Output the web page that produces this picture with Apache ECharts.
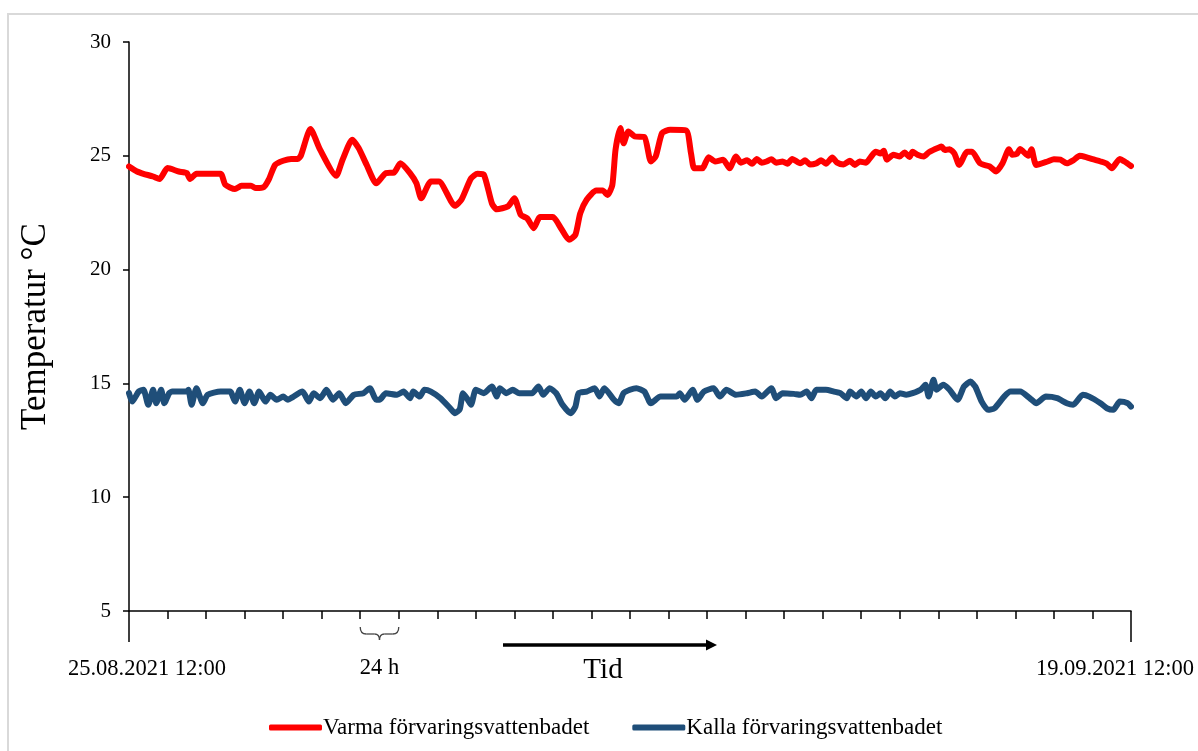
<!DOCTYPE html>
<html>
<head>
<meta charset="utf-8">
<script src="https://cdn.jsdelivr.net/npm/echarts@6/dist/echarts.min.js"></script>
<style>
  html, body { margin: 0; padding: 0; background: #ffffff; }
  #chart { width: 1198px; height: 751px; }
</style>
</head>
<body>
<div id="chart"></div>
<script>
// Time is counted in hours from 25.08.2021 12:00; one axis tick per 24 h.
const xEndLabels = ['25.08.2021 12:00', '19.09.2021 12:00'];
const hoursTotal = 624;
const tickHours = 24;
const yTicks = [5, 10, 15, 20, 25, 30];
const seriesNames = ['Varma förvaringsvattenbadet', 'Kalla förvaringsvattenbadet'];

// Warm storage water bath
const warmHours = [0, 5, 9, 15, 19, 24, 31, 36, 38, 42, 57, 60, 66, 70, 76, 79, 84, 87, 91, 96,
  101, 105, 107, 113, 119, 129, 133, 139, 143, 148, 154, 160, 165, 169, 175, 179, 182, 188, 193, 203,
  207, 213, 217, 221, 226, 229, 236, 240, 244, 248, 252, 256, 264, 269, 274, 278, 281, 285, 291, 295,
  298, 301, 303, 306, 308, 311, 315, 321, 325, 328, 332, 337, 347, 350, 352, 357, 361, 365, 370, 374,
  378, 381, 385, 388, 391, 394, 397, 400, 403, 407, 410, 413, 418, 421, 424, 428, 431, 434, 438, 441,
  445, 449, 452, 455, 459, 462, 465, 468, 470, 472, 476, 480, 483, 486, 488, 491, 495, 498, 501, 504,
  506, 508, 511, 514, 517, 522, 525, 530, 536, 540, 544, 548, 550, 553, 555, 557, 560, 562, 565, 572,
  576, 580, 584, 588, 592, 596, 600, 605, 609, 612, 617, 620, 624];
const warmTemps = [24.53, 24.31, 24.21, 24.09, 23.98, 24.46, 24.31, 24.24, 23.98, 24.21, 24.21, 23.73, 23.54, 23.68, 23.68, 23.58, 23.63, 23.95, 24.60, 24.78,
  24.86, 24.86, 25.00, 26.18, 25.27, 24.12, 24.83, 25.71, 25.34, 24.60, 23.79, 24.24, 24.26, 24.67, 24.24, 23.79, 23.13, 23.87, 23.87, 22.80,
  23.07, 24.01, 24.21, 24.17, 22.91, 22.65, 22.78, 23.13, 22.40, 22.25, 21.82, 22.31, 22.31, 21.82, 21.31, 21.53, 22.47, 23.07, 23.47, 23.47,
  23.28, 23.72, 25.27, 26.22, 25.55, 26.07, 25.85, 25.82, 24.75, 24.97, 26.00, 26.14, 26.11, 25.11, 24.45, 24.45, 24.94, 24.75, 24.83, 24.45,
  24.97, 24.70, 24.80, 24.65, 24.86, 24.70, 24.75, 24.85, 24.70, 24.75, 24.65, 24.86, 24.67, 24.80, 24.62, 24.67, 24.80, 24.65, 24.92, 24.70,
  24.62, 24.78, 24.60, 24.75, 24.70, 24.95, 25.18, 25.10, 25.22, 24.83, 25.05, 24.97, 25.15, 24.95, 25.18, 25.05, 24.97, 25.15, 25.26, 25.35,
  25.41, 25.25, 25.29, 25.10, 24.60, 25.18, 25.18, 24.67, 24.53, 24.31, 24.67, 25.29, 25.05, 25.09, 25.30, 25.18, 25.00, 25.29, 24.60, 24.75,
  24.85, 24.83, 24.67, 24.80, 25.00, 24.94, 24.85, 24.75, 24.65, 24.45, 24.86, 24.75, 24.55];

// Cold storage water bath
const coldHours = [0, 2, 6, 9, 12, 15, 17, 20, 22, 25, 27, 36, 37, 39, 42, 46, 49, 57, 63, 66,
  69, 72, 75, 78, 81, 85, 88, 92, 96, 99, 102, 108, 112, 115, 119, 123, 127, 131, 135, 140,
  146, 150, 154, 156, 160, 167, 171, 175, 177, 181, 184, 188, 194, 200, 203, 206, 208, 211, 213, 216,
  221, 226, 229, 231, 235, 239, 243, 251, 255, 258, 262, 266, 270, 275, 278, 280, 285, 290, 293, 296,
  302, 305, 308, 312, 316, 321, 325, 331, 341, 343, 346, 351, 354, 358, 364, 368, 372, 378, 385, 390,
  394, 400, 403, 407, 414, 418, 422, 425, 428, 434, 439, 443, 447, 449, 453, 456, 459, 462, 465, 468,
  471, 474, 477, 480, 484, 488, 493, 496, 498, 501, 503, 507, 511, 516, 520, 524, 527, 531, 535, 539,
  545, 549, 555, 561, 565, 571, 578, 584, 588, 594, 598, 605, 609, 613, 617, 622, 624];
const coldTemps = [14.57, 14.20, 14.64, 14.72, 14.06, 14.72, 14.13, 14.72, 14.13, 14.57, 14.64, 14.64, 14.72, 14.06, 14.79, 14.13, 14.50, 14.64, 14.64, 14.20,
  14.72, 14.13, 14.64, 14.13, 14.64, 14.20, 14.50, 14.28, 14.42, 14.28, 14.40, 14.64, 14.20, 14.57, 14.35, 14.72, 14.28, 14.57, 14.13, 14.50,
  14.57, 14.79, 14.28, 14.28, 14.57, 14.50, 14.64, 14.35, 14.64, 14.42, 14.72, 14.64, 14.35, 13.91, 13.69, 13.87, 14.57, 14.28, 14.06, 14.72,
  14.57, 14.86, 14.42, 14.79, 14.57, 14.72, 14.57, 14.57, 14.86, 14.50, 14.79, 14.57, 14.06, 13.69, 13.98, 14.57, 14.64, 14.79, 14.42, 14.79,
  14.28, 14.13, 14.57, 14.72, 14.79, 14.64, 14.13, 14.42, 14.42, 14.57, 14.28, 14.72, 14.28, 14.64, 14.79, 14.42, 14.72, 14.50, 14.57, 14.64,
  14.42, 14.79, 14.35, 14.57, 14.54, 14.50, 14.64, 14.35, 14.72, 14.72, 14.64, 14.57, 14.35, 14.64, 14.42, 14.64, 14.35, 14.64, 14.42, 14.57,
  14.35, 14.64, 14.42, 14.57, 14.50, 14.57, 14.72, 14.94, 14.42, 15.16, 14.72, 14.94, 14.72, 14.28, 14.86, 15.08, 14.86, 14.20, 13.84, 13.91,
  14.42, 14.64, 14.64, 14.35, 14.13, 14.42, 14.35, 14.13, 14.06, 14.50, 14.42, 14.13, 13.91, 13.84, 14.20, 14.13, 13.98];

const zip = (xs, ys) => xs.map((x, i) => [x, ys[i]]);

const FONT = '"Liberation Serif", "Times New Roman", serif';
const warmColor = '#ff0000';
const coldColor = '#1f4e79';

const chart = echarts.init(document.getElementById('chart'), null, { renderer: 'canvas' });

chart.setOption({
  animation: false,
  backgroundColor: '#ffffff',
  textStyle: { fontFamily: FONT },
  grid: { left: 129, right: 67, top: 42, bottom: 140, containLabel: false },
  legend: {
    left: 264,
    top: 711,
    itemWidth: 53,
    itemHeight: 6,
    itemGap: 43,
    icon: 'roundRect',
    textStyle: { fontFamily: FONT, fontSize: 23, color: '#000000', padding: [0, 0, 0, -4] },
    data: seriesNames
  },
  xAxis: [
    {
      type: 'value',
      min: 0,
      max: hoursTotal,
      interval: tickHours,
      position: 'bottom',
      axisLine: { show: true, lineStyle: { color: '#000000', width: 1.5 } },
      axisTick: { show: true, length: 8, lineStyle: { color: '#000000', width: 1.5 } },
      axisLabel: { show: false },
      splitLine: { show: false }
    },
    {
      // end markers with the start and end timestamps
      type: 'value',
      min: 0,
      max: hoursTotal,
      interval: hoursTotal,
      position: 'bottom',
      offset: 0,
      axisLine: { show: false },
      axisTick: { show: true, length: 31, lineStyle: { color: '#000000', width: 1.5 } },
      axisLabel: {
        show: true,
        margin: 47,
        fontFamily: FONT,
        fontSize: 22,
        color: '#000000',
        formatter: v => v === 0 ? '{a|' + xEndLabels[0] + '}' : '{b|' + xEndLabels[1] + '}',
        rich: {
          a: { fontFamily: FONT, fontSize: 22.5, color: '#000000', padding: [0, 0, 0, 36] },
          b: { fontFamily: FONT, fontSize: 22.5, color: '#000000', padding: [0, 32, 0, 0] }
        }
      },
      splitLine: { show: false }
    }
  ],
  yAxis: {
    type: 'value',
    min: yTicks[0],
    max: yTicks[yTicks.length - 1],
    interval: yTicks[1] - yTicks[0],
    name: 'Temperatur °C',
    nameLocation: 'middle',
    nameRotate: 90,
    nameGap: 76,
    nameTextStyle: { fontFamily: FONT, fontSize: 35, color: '#000000' },
    axisLine: { show: true, lineStyle: { color: '#000000', width: 1.5 } },
    axisTick: { show: true, length: 6, lineStyle: { color: '#000000', width: 1.5 } },
    axisLabel: { margin: 18, fontFamily: FONT, fontSize: 21, color: '#000000' },
    splitLine: { show: false }
  },
  series: [
    {
      name: seriesNames[0],
      type: 'line',
      xAxisIndex: 0,
      data: zip(warmHours, warmTemps),
      showSymbol: false,
      symbol: 'none',
      smooth: 0.2,
      lineStyle: { color: warmColor, width: 6, join: 'round', cap: 'round' },
      itemStyle: { color: warmColor }
    },
    {
      name: seriesNames[1],
      type: 'line',
      xAxisIndex: 0,
      data: zip(coldHours, coldTemps),
      showSymbol: false,
      symbol: 'none',
      smooth: 0.2,
      lineStyle: { color: coldColor, width: 6, join: 'round', cap: 'round' },
      itemStyle: { color: coldColor }
    }
  ]
});

// Annotations below the time axis: a brace spanning one 24 h interval,
// its label, and the direction-of-time arrow.
const braceStart = chart.convertToPixel({ gridIndex: 0 }, [6 * tickHours, yTicks[0]]);
const braceEnd = chart.convertToPixel({ gridIndex: 0 }, [7 * tickHours, yTicks[0]]);
const bx1 = braceStart[0], bx2 = braceEnd[0], bm = (bx1 + bx2) / 2;
const by0 = braceStart[1] + 16, by1 = by0 + 7, by2 = by0 + 13;
const braceStyle = { stroke: '#444444', lineWidth: 1.3, fill: null };
const curve = (x1, y1, cx, cy, x2, y2) => ({
  type: 'bezierCurve', silent: true,
  shape: { x1, y1, cpx1: cx, cpy1: cy, x2, y2 },
  style: braceStyle
});
const seg = (x1, y1, x2, y2) => ({
  type: 'line', silent: true, shape: { x1, y1, x2, y2 }, style: braceStyle
});

chart.setOption({
  graphic: [
    {
      type: 'polyline',
      silent: true,
      shape: { points: [[8, 751], [8, 14], [1198, 14]] },
      style: { stroke: '#d9d9d9', lineWidth: 2, fill: null }
    },
    curve(bx1, by0, bx1, by1, bx1 + 6, by1),
    seg(bx1 + 6, by1, bm - 5, by1),
    curve(bm - 5, by1, bm, by1, bm, by2),
    curve(bm, by2, bm, by1, bm + 5, by1),
    seg(bm + 5, by1, bx2 - 6, by1),
    curve(bx2 - 6, by1, bx2, by1, bx2, by0),
    {
      type: 'text',
      silent: true,
      x: bm,
      y: 668,
      style: { text: '24 h', font: '22.5px ' + FONT, fill: '#000000', align: 'center', verticalAlign: 'middle' }
    },
    {
      type: 'line',
      silent: true,
      shape: { x1: 503, y1: 645, x2: 708, y2: 645 },
      style: { stroke: '#000000', lineWidth: 3.5 }
    },
    {
      type: 'polygon',
      silent: true,
      shape: { points: [[706, 639.5], [717, 645], [706, 650.5]] },
      style: { fill: '#000000' }
    },
    {
      type: 'text',
      silent: true,
      x: 603,
      y: 670,
      style: { text: 'Tid', font: '29px ' + FONT, fill: '#000000', align: 'center', verticalAlign: 'middle' }
    }
  ]
});
</script>
</body>
</html>
